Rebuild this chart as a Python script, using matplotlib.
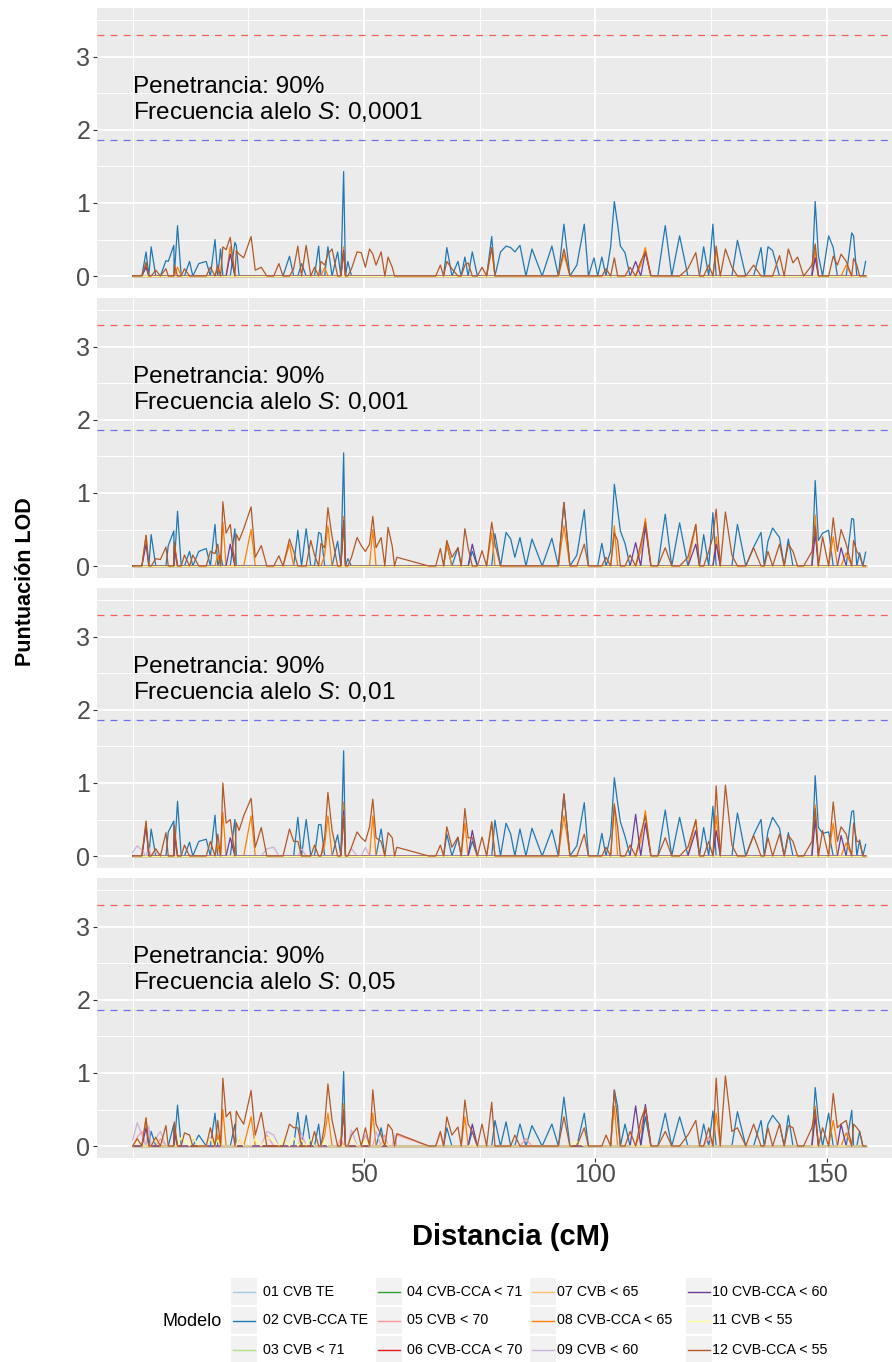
import numpy as np
import matplotlib
matplotlib.use('Agg')
import matplotlib.pyplot as plt
from matplotlib.patches import Rectangle
from matplotlib.ticker import FixedLocator

plt.rcParams['font.family'] = ['Liberation Sans', 'DejaVu Sans']
plt.rcParams['mathtext.fontset'] = 'custom'
plt.rcParams['mathtext.rm'] = 'Liberation Sans'
plt.rcParams['mathtext.it'] = 'Liberation Sans:italic'
plt.rcParams['lines.scale_dashes'] = False

# models (legend order) and Paired palette
model_labels = ['01 CVB TE', '02 CVB-CCA TE', '03 CVB < 71', '04 CVB-CCA < 71',
                '05 CVB < 70', '06 CVB-CCA < 70', '07 CVB < 65', '08 CVB-CCA < 65',
                '09 CVB < 60', '10 CVB-CCA < 60', '11 CVB < 55', '12 CVB-CCA < 55']
model_colors = ['#A6CEE3', '#1F78B4', '#B2DF8A', '#33A02C', '#FB9A99', '#E31A1C',
                '#FDBF6F', '#FF7F00', '#CAB2D6', '#6A3D9A', '#FFFF99', '#B15928']

penetrance = '90%'
allele_freqs = ['0,0001', '0,001', '0,01', '0,05']
lod_significant = 3.3
lod_suggestive = 1.86

# marker positions (cM) where every model is ~0
baseline_cm = [0.0, 1.0, 2.0, 3.5, 5.0, 6.0, 10.5, 11.2, 13.0, 16.8, 18.4, 23.0, 26.5,
               29.0, 30.5, 32.5, 34.8, 36.5, 38.5, 39.3, 41.5, 45.0, 46.0, 47.3, 50.3,
               52.6, 54.5, 56.6, 57.1, 64.0, 65.5, 67.2, 69.0, 71.0, 72.5, 74.5, 76.5,
               79.5, 85.0, 88.5, 92.0, 94.5, 98.5, 100.5, 102.3, 107.5, 109.8, 112.0,
               113.5, 116.5, 120.0, 122.5, 124.5, 127.0, 129.5, 132.5, 136.5, 140.8,
               142.7, 145.0, 146.8, 152.3, 154.2, 156.5, 157.8, 158.4]

# ---- panel 1: frecuencia 0,0001 ----
p1_m02 = [(2.9, 0.33), (4.0, 0.40), (7.2, 0.21), (7.7, 0.20), (8.9, 0.42), (9.7, 0.69),
          (12.3, 0.20), (14.3, 0.17), (15.9, 0.20), (17.8, 0.50), (19.0, 0.37), (22.1, 0.46),
          (22.4, 0.42), (33.9, 0.27), (36.5, 0.17), (40.2, 0.41), (42.2, 0.40), (44.3, 0.33),
          (45.6, 1.43), (46.5, 0.20), (67.9, 0.39), (70.3, 0.20), (71.8, 0.26), (73.4, 0.33),
          (77.6, 0.54), (79.5, 0.33), (80.7, 0.41), (81.7, 0.39), (82.6, 0.33), (83.7, 0.42),
          (86.3, 0.37), (90.6, 0.41), (93.2, 0.71), (96.0, 0.15), (97.6, 0.71), (99.7, 0.25),
          (101.4, 0.26), (103.3, 0.40), (104.1, 1.02), (104.8, 0.71), (105.4, 0.41),
          (106.4, 0.32), (115.1, 0.69), (118.2, 0.55), (123.4, 0.40), (125.4, 0.71),
          (130.7, 0.49), (135.8, 0.39), (137.3, 0.40), (138.3, 0.35), (147.5, 1.02),
          (148.2, 0.28), (150.4, 0.55), (151.4, 0.39), (155.4, 0.59), (155.8, 0.55), (158.4, 0.20)]
p1_m08 = [(2.9, 0.15), (9.7, 0.12), (21.1, 0.40), (45.6, 0.40), (77.6, 0.39), (93.2, 0.30),
          (110.8, 0.39), (126.1, 0.35), (147.5, 0.36), (18.4, 0.12), (41.5, 0.12),
          (109.8, 0.15), (154.2, 0.15)]
p1_m10 = [(2.9, 0.12), (21.1, 0.30), (45.6, 0.35), (108.7, 0.20), (110.8, 0.33), (147.5, 0.25)]
p1_m12 = [(2.9, 0.19), (7.2, 0.10), (9.0, 0.15), (19.5, 0.40), (20.2, 0.36), (21.1, 0.53),
          (22.4, 0.35), (24.0, 0.25), (25.6, 0.54), (27.8, 0.12), (31.6, 0.17), (35.7, 0.41),
          (37.5, 0.42), (40.7, 0.20), (42.2, 0.30), (43.1, 0.37), (45.6, 0.33), (48.5, 0.33),
          (49.4, 0.32), (51.2, 0.37), (51.9, 0.30), (53.7, 0.33), (55.2, 0.26), (56.1, 0.12),
          (66.5, 0.15), (67.9, 0.20), (71.8, 0.15), (75.5, 0.12), (77.6, 0.39), (93.2, 0.37),
          (104.1, 0.25), (110.8, 0.33), (121.7, 0.32), (126.1, 0.41), (128.1, 0.37),
          (134.2, 0.15), (139.8, 0.28), (141.7, 0.37), (143.7, 0.26), (147.5, 0.44),
          (151.4, 0.27), (153.1, 0.30), (155.8, 0.24)]
p1_m12_low = [(5.0, 0.08), (11.2, 0.10), (16.8, 0.12), (18.4, 0.15), (23.0, 0.30),
              (26.5, 0.08), (34.8, 0.10), (39.3, 0.12), (41.5, 0.15), (47.3, 0.10),
              (50.3, 0.12), (52.6, 0.15), (69.0, 0.10), (72.5, 0.18), (102.3, 0.10),
              (107.5, 0.12), (109.8, 0.20), (120.0, 0.10), (124.5, 0.15), (129.5, 0.12),
              (142.7, 0.18), (146.8, 0.15), (152.3, 0.15), (154.2, 0.20), (156.5, 0.15)]

# ---- panel 2: frecuencia 0,001 ----
p2_m02 = [(4.0, 0.43), (7.7, 0.28), (8.9, 0.48), (9.7, 0.75), (12.3, 0.20), (14.3, 0.20),
          (15.9, 0.24), (17.8, 0.57), (19.0, 0.15), (22.1, 0.51), (35.7, 0.49), (37.5, 0.51),
          (40.2, 0.46), (40.7, 0.44), (44.3, 0.34), (45.6, 1.55), (46.5, 0.10), (67.9, 0.30),
          (70.3, 0.25), (73.4, 0.20), (78.3, 0.44), (80.7, 0.46), (81.7, 0.37), (82.6, 0.12),
          (83.7, 0.39), (86.3, 0.37), (90.6, 0.38), (93.2, 0.87), (96.0, 0.15), (97.6, 0.77),
          (101.4, 0.31), (103.3, 0.21), (104.1, 1.12), (104.8, 0.78), (105.4, 0.48),
          (106.4, 0.31), (115.1, 0.71), (118.2, 0.59), (123.4, 0.43), (125.4, 0.73),
          (130.7, 0.57), (134.2, 0.26), (135.8, 0.46), (137.3, 0.34), (138.3, 0.52),
          (139.8, 0.39), (141.7, 0.37), (147.5, 1.17), (148.2, 0.35), (149.1, 0.45),
          (150.4, 0.49), (155.4, 0.65), (155.8, 0.64), (157.1, 0.18), (158.4, 0.19)]
p2_m08 = [(2.9, 0.42), (9.0, 0.30), (19.5, 0.60), (25.6, 0.50), (33.9, 0.30), (42.2, 0.55),
          (45.6, 0.68), (51.9, 0.50), (67.9, 0.30), (77.6, 0.45), (93.2, 0.55), (104.1, 0.55),
          (110.8, 0.65), (121.7, 0.57), (126.1, 0.40), (147.5, 0.70), (151.4, 0.40),
          (18.4, 0.15), (41.5, 0.15), (109.8, 0.20), (154.2, 0.18)]
p2_m10 = [(2.9, 0.30), (9.0, 0.25), (21.1, 0.30), (45.6, 0.62), (73.4, 0.30), (108.7, 0.32),
          (110.8, 0.54), (121.7, 0.30), (126.1, 0.30), (147.5, 0.45), (153.1, 0.25)]
p2_m12 = [(2.9, 0.42), (6.0, 0.09), (7.2, 0.26), (9.0, 0.33), (13.0, 0.15), (17.8, 0.17),
          (19.5, 0.88), (20.2, 0.45), (21.1, 0.57), (22.4, 0.44), (24.0, 0.51), (25.6, 0.81),
          (27.8, 0.28), (31.6, 0.14), (33.9, 0.37), (38.5, 0.35), (40.7, 0.31), (42.2, 0.80),
          (43.1, 0.40), (45.6, 0.60), (48.5, 0.39), (49.4, 0.28), (51.2, 0.30), (51.9, 0.68),
          (53.7, 0.39), (55.2, 0.53), (56.1, 0.27), (57.1, 0.12), (66.5, 0.24), (67.9, 0.35),
          (70.3, 0.25), (71.8, 0.51), (75.5, 0.21), (77.6, 0.60), (78.3, 0.30), (93.2, 0.87),
          (97.6, 0.30), (104.1, 0.45), (104.8, 0.35), (110.8, 0.60), (115.1, 0.25),
          (121.7, 0.57), (125.4, 0.40), (126.1, 0.78), (128.1, 0.74), (134.2, 0.25),
          (137.3, 0.20), (139.8, 0.30), (141.7, 0.30), (147.5, 0.55), (149.1, 0.40),
          (151.4, 0.66), (153.1, 0.50), (155.8, 0.35), (157.1, 0.15)]
p2_m12_low = [(5.0, 0.10), (11.2, 0.15), (16.8, 0.20), (18.4, 0.30), (23.0, 0.35),
              (26.5, 0.12), (34.8, 0.20), (39.3, 0.15), (41.5, 0.25), (47.3, 0.12),
              (50.3, 0.20), (52.6, 0.25), (69.0, 0.12), (72.5, 0.25), (102.3, 0.12),
              (107.5, 0.15), (109.8, 0.30), (120.0, 0.12), (124.5, 0.20), (129.5, 0.15),
              (142.7, 0.20), (146.8, 0.20), (152.3, 0.20), (154.2, 0.30), (156.5, 0.20)]

# ---- panel 3: frecuencia 0,01 ----
p3_m02 = [(4.0, 0.37), (7.7, 0.33), (8.9, 0.48), (9.7, 0.75), (12.3, 0.19), (14.3, 0.20),
          (15.9, 0.23), (17.8, 0.56), (22.1, 0.50), (35.7, 0.53), (37.5, 0.50), (40.2, 0.43),
          (40.7, 0.43), (44.3, 0.29), (45.6, 1.44), (53.7, 0.37), (67.9, 0.30), (70.3, 0.25),
          (73.4, 0.20), (78.3, 0.49), (80.7, 0.45), (81.7, 0.30), (83.7, 0.37), (86.3, 0.38),
          (90.6, 0.36), (93.2, 0.85), (96.0, 0.14), (97.6, 0.73), (101.4, 0.31), (103.3, 0.29),
          (104.1, 1.07), (104.8, 0.73), (105.4, 0.47), (106.4, 0.27), (115.1, 0.63),
          (118.2, 0.53), (123.4, 0.39), (125.4, 0.68), (130.7, 0.59), (134.2, 0.29),
          (135.8, 0.50), (137.3, 0.34), (138.3, 0.53), (139.8, 0.38), (141.7, 0.32),
          (147.5, 1.10), (148.2, 0.39), (149.1, 0.31), (150.4, 0.33), (155.4, 0.61),
          (155.8, 0.62), (157.1, 0.22), (158.4, 0.16)]
p3_m08 = [(2.9, 0.45), (9.0, 0.35), (19.5, 0.60), (25.6, 0.55), (42.2, 0.55), (45.6, 0.74),
          (51.9, 0.55), (71.8, 0.45), (77.6, 0.45), (93.2, 0.55), (104.1, 0.72), (110.8, 0.62),
          (121.7, 0.50), (126.1, 0.55), (147.5, 0.70), (151.4, 0.45),
          (18.4, 0.15), (41.5, 0.15), (109.8, 0.20), (154.2, 0.18)]
p3_m09 = [(0.0, 0.05), (1.0, 0.14), (2.0, 0.08), (3.5, 0.12), (5.0, 0.06), (29.0, 0.10),
          (30.5, 0.12), (36.5, 0.10), (47.3, 0.10), (50.3, 0.12)]
p3_m10 = [(2.9, 0.40), (9.0, 0.30), (21.1, 0.25), (45.6, 0.62), (73.4, 0.35), (108.7, 0.57),
          (110.8, 0.45), (121.7, 0.35), (126.1, 0.35), (147.5, 0.50), (153.1, 0.28)]
p3_m12 = [(2.9, 0.48), (7.2, 0.32), (9.0, 0.42), (19.5, 1.00), (20.2, 0.45), (21.1, 0.50),
          (22.4, 0.46), (24.0, 0.55), (25.6, 0.79), (27.8, 0.39), (33.9, 0.37), (35.7, 0.20),
          (42.2, 0.87), (43.1, 0.35), (45.6, 0.55), (48.5, 0.33), (49.4, 0.25), (51.2, 0.40),
          (51.9, 0.78), (53.7, 0.20), (55.2, 0.32), (56.1, 0.25), (57.1, 0.12), (66.5, 0.15),
          (67.9, 0.40), (70.3, 0.26), (71.8, 0.65), (73.4, 0.25), (75.5, 0.26), (77.6, 0.47),
          (93.2, 0.85), (97.6, 0.30), (104.1, 0.70), (104.8, 0.40), (110.8, 0.55),
          (115.1, 0.25), (121.7, 0.49), (126.1, 0.96), (128.1, 0.97), (134.2, 0.28),
          (137.3, 0.25), (139.8, 0.30), (141.7, 0.28), (147.5, 0.65), (149.1, 0.35),
          (151.4, 0.74), (153.1, 0.40), (155.8, 0.45), (157.1, 0.20)]
p3_m12_low = [(5.0, 0.10), (11.2, 0.15), (16.8, 0.20), (18.4, 0.30), (23.0, 0.35),
              (26.5, 0.12), (34.8, 0.20), (39.3, 0.15), (41.5, 0.25), (47.3, 0.12),
              (50.3, 0.20), (52.6, 0.25), (69.0, 0.12), (72.5, 0.25), (102.3, 0.12),
              (107.5, 0.15), (109.8, 0.30), (120.0, 0.12), (124.5, 0.20), (129.5, 0.15),
              (142.7, 0.20), (146.8, 0.20), (152.3, 0.20), (154.2, 0.30), (156.5, 0.20)]

# ---- panel 4: frecuencia 0,05 ----
p4_m02 = [(4.0, 0.20), (8.9, 0.30), (9.7, 0.56), (14.3, 0.15), (17.8, 0.45), (22.1, 0.30),
          (35.7, 0.46), (37.5, 0.42), (40.2, 0.30), (45.6, 1.02), (53.7, 0.25), (67.9, 0.25),
          (73.4, 0.20), (78.3, 0.35), (80.7, 0.33), (83.7, 0.30), (86.3, 0.28), (90.6, 0.30),
          (93.2, 0.67), (97.6, 0.45), (104.1, 0.77), (104.8, 0.54), (106.4, 0.30),
          (110.8, 0.40), (115.1, 0.45), (118.2, 0.40), (123.4, 0.30), (125.4, 0.48),
          (130.7, 0.47), (135.8, 0.35), (137.3, 0.30), (138.3, 0.42), (139.8, 0.30),
          (141.7, 0.42), (147.5, 0.80), (148.2, 0.35), (150.4, 0.45), (155.4, 0.49), (157.1, 0.20)]
p4_m05 = [(1.0, 0.12), (2.0, 0.20), (6.0, 0.10), (16.8, 0.12), (23.0, 0.10), (29.0, 0.15),
          (36.5, 0.10), (45.0, 0.12), (54.5, 0.15), (57.1, 0.15), (66.5, 0.18), (85.0, 0.10),
          (124.5, 0.12)]
p4_m08 = [(2.9, 0.39), (9.0, 0.25), (19.5, 0.50), (25.6, 0.40), (42.2, 0.45), (45.6, 0.58),
          (51.9, 0.45), (71.8, 0.40), (104.1, 0.55), (110.8, 0.53), (126.1, 0.45),
          (147.5, 0.55), (151.4, 0.35), (18.4, 0.15), (41.5, 0.15), (109.8, 0.20), (154.2, 0.18)]
p4_m09 = [(0.0, 0.08), (1.0, 0.32), (2.0, 0.15), (3.5, 0.27), (5.0, 0.10), (6.0, 0.20),
          (13.0, 0.10), (23.0, 0.12), (29.0, 0.20), (30.5, 0.15), (36.5, 0.18), (47.3, 0.22),
          (50.3, 0.15), (52.6, 0.20), (56.6, 0.15)]
p4_m10 = [(2.9, 0.25), (9.0, 0.20), (45.6, 0.48), (73.4, 0.30), (108.7, 0.55), (110.8, 0.57),
          (147.5, 0.40), (153.1, 0.30)]
p4_m11 = [(1.0, 0.08), (5.0, 0.10), (10.5, 0.12), (11.2, 0.08), (13.0, 0.12), (16.8, 0.10),
          (18.4, 0.08), (23.0, 0.12), (26.5, 0.10), (29.0, 0.12), (30.5, 0.08), (32.5, 0.10),
          (34.8, 0.12), (36.5, 0.08), (38.5, 0.10), (41.5, 0.06), (47.3, 0.10), (50.3, 0.08),
          (54.5, 0.06), (96.0, 0.06)]
p4_m12 = [(1.0, 0.10), (2.9, 0.38), (7.2, 0.28), (9.0, 0.33), (12.3, 0.15), (19.5, 0.93),
          (20.2, 0.40), (21.1, 0.47), (22.4, 0.48), (24.0, 0.30), (25.6, 0.76), (27.8, 0.46),
          (33.9, 0.30), (35.7, 0.25), (42.2, 0.85), (43.1, 0.35), (45.6, 0.50), (48.5, 0.25),
          (51.9, 0.77), (53.7, 0.15), (55.2, 0.30), (56.1, 0.22), (57.1, 0.17), (66.5, 0.20),
          (67.9, 0.40), (70.3, 0.26), (71.8, 0.63), (73.4, 0.20), (75.5, 0.30), (77.6, 0.60),
          (82.6, 0.15), (93.2, 0.40), (97.6, 0.25), (104.1, 0.76), (104.8, 0.35),
          (110.8, 0.53), (115.1, 0.20), (121.7, 0.35), (126.1, 0.93), (128.1, 0.96),
          (130.7, 0.25), (134.2, 0.30), (137.3, 0.25), (139.8, 0.30), (141.7, 0.28),
          (147.5, 0.50), (149.1, 0.25), (151.4, 0.72), (153.1, 0.30), (155.8, 0.30), (157.1, 0.20)]
p4_m12_low = [(5.0, 0.12), (11.2, 0.18), (16.8, 0.25), (18.4, 0.35), (23.0, 0.40),
              (26.5, 0.15), (34.8, 0.25), (39.3, 0.20), (41.5, 0.30), (47.3, 0.15),
              (50.3, 0.25), (52.6, 0.30), (69.0, 0.15), (72.5, 0.30), (102.3, 0.15),
              (107.5, 0.20), (109.8, 0.35), (120.0, 0.15), (124.5, 0.25), (129.5, 0.20),
              (142.7, 0.25), (146.8, 0.25), (152.3, 0.25), (154.2, 0.35), (156.5, 0.25)]

# model index -> peaks, one dict per panel
panels = [
    {1: p1_m02, 7: p1_m08, 9: p1_m10, 11: p1_m12 + p1_m12_low},
    {1: p2_m02, 7: p2_m08, 9: p2_m10, 11: p2_m12 + p2_m12_low},
    {1: p3_m02, 7: p3_m08, 8: p3_m09, 9: p3_m10, 11: p3_m12 + p3_m12_low},
    {1: p4_m02, 4: p4_m05, 7: p4_m08, 8: p4_m09, 9: p4_m10, 10: p4_m11,
     11: p4_m12 + p4_m12_low},
]

all_cm = set(baseline_cm)
for pan in panels:
    for pk in pan.values():
        all_cm.update(c for c, v in pk)
marker_cm = np.array(sorted(all_cm))

W, H = 892, 1362
fig = plt.figure(figsize=(W / 100, H / 100), dpi=100)
fig.patch.set_facecolor('white')

for k, pan in enumerate(panels):
    top = 8 + 290 * k
    ax = fig.add_axes([97 / W, 1 - (top + 280) / H, (W - 97) / W, 280 / H])
    ax.set_facecolor('#EBEBEB')
    for s in ax.spines.values():
        s.set_visible(False)
    ax.set_xlim(-7.7, 164.1)
    ax.set_ylim(-0.164, 3.67)
    ax.xaxis.set_major_locator(FixedLocator([50, 100, 150]))
    ax.xaxis.set_minor_locator(FixedLocator([0, 25, 75, 125]))
    ax.yaxis.set_major_locator(FixedLocator([0, 1, 2, 3]))
    ax.yaxis.set_minor_locator(FixedLocator([0.5, 1.5, 2.5, 3.5]))
    ax.grid(which='major', color='white', lw=1.4)
    ax.grid(which='minor', color='white', lw=0.7)
    ax.set_axisbelow(True)
    ax.tick_params(which='minor', length=0)
    ax.tick_params(axis='y', which='major', length=2.9, width=0.8, color='#333333',
                   labelcolor='#4D4D4D', labelsize=18, pad=2)
    if k == 3:
        ax.tick_params(axis='x', which='major', length=2.9, width=0.8, color='#333333',
                       labelcolor='#4D4D4D', labelsize=18, pad=1)
    else:
        ax.tick_params(axis='x', which='major', length=0, labelbottom=False)

    for i in range(12):
        pk = dict(pan.get(i, []))
        lod = [pk.get(c, 0.0) for c in marker_cm]
        ax.plot(marker_cm, lod, color=model_colors[i], lw=0.9)

    ax.axhline(lod_significant, color='#F2605A', lw=0.9, dashes=(5.0, 4.4))
    ax.axhline(lod_suggestive, color='#6F6FEA', lw=0.9, dashes=(5.0, 4.4))

    ax.text(0, 2.51, 'Penetrancia: ' + penetrance, fontsize=17.5, va='baseline', ha='left')
    ax.text(0, 2.15, 'Frecuencia alelo $\\mathit{S}$: ' + allele_freqs[k], fontsize=17.5,
            va='baseline', ha='left')

# overlay in pixel coordinates for titles and legend
lax = fig.add_axes([0, 0, 1, 1])
lax.set_xlim(0, W)
lax.set_ylim(H, 0)
lax.axis('off')

lax.text(26, 582, 'Puntuación LOD', rotation=90, ha='center', va='center',
         fontsize=15.5, fontweight='bold')
lax.text(511, 1237, 'Distancia (cM)', ha='center', va='center',
         fontsize=21, fontweight='bold')

lax.text(163, 1321, 'Modelo', ha='left', va='center', fontsize=13)
key_left = [231, 376, 530, 686]
text_left = [263, 407, 557, 712]
row_top = [1278, 1307, 1336]
for i, lab in enumerate(model_labels):
    c, r = i // 3, i % 3
    x0, y0 = key_left[c], row_top[r]
    lax.add_patch(Rectangle((x0, y0), 26, 27, facecolor='#F2F2F2', edgecolor='none'))
    lax.plot([x0 + 2, x0 + 24], [y0 + 13.5, y0 + 13.5], color=model_colors[i], lw=1.0)
    lax.text(text_left[c], y0 + 13.5, lab, ha='left', va='center', fontsize=10.3)

fig.savefig('out.png', dpi=100)
